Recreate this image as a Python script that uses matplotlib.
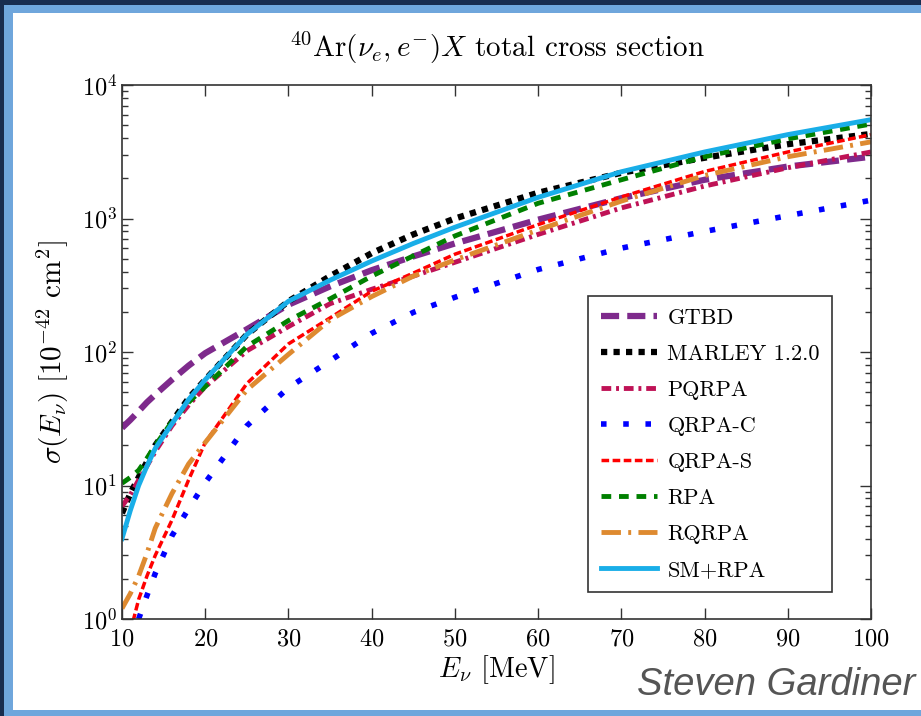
import numpy as np
import matplotlib
matplotlib.use("Agg")
import matplotlib.pyplot as plt
from matplotlib.patches import Rectangle
from matplotlib.ticker import LogLocator, FixedLocator, NullLocator

plt.rcParams["font.family"] = "serif"
plt.rcParams["font.serif"] = ["cmr10"]
plt.rcParams["mathtext.fontset"] = "cm"
plt.rcParams["axes.formatter.use_mathtext"] = True
plt.rcParams["axes.unicode_minus"] = False

# neutrino energy grid [MeV]
energy = [10, 11, 12, 13, 14, 16, 18, 20, 25, 30, 35, 40, 45, 50, 60, 70, 80, 90, 100]
nan = np.nan

# total cross sections [1e-42 cm^2]
gtbd = [27, 31, 36, 42, 48, 62, 79, 98, 148, 226, 310, 410, 520, 650, 980, 1420, 1950, 2450, 2900]
marley = [6.2, 8.7, 11.5, 15, 20, 30, 45, 62, 135, 240, 370, 550, 760, 1000, 1560, 2200, 2850, 3600, 4300]
pqrpa = [7, 8.5, 11, 14, 18, 28, 40, 55, 102, 155, 230, 295, 370, 470, 760, 1200, 1750, 2400, 3150]
qrpa_c = [nan, nan, 1.0, 1.5, 2.2, 4.2, 6.7, 10.5, 28, 54, 86, 138, 198, 257, 415, 600, 800, 1050, 1370]
qrpa_s = [nan, 0.8, 1.4, 2.1, 3.0, 5.5, 11, 21, 58, 115, 180, 285, 390, 540, 900, 1450, 2250, 3150, 4250]
rpa = [10.4, 11.5, 13, 16, 20, 30, 42, 55, 110, 172, 250, 370, 525, 740, 1300, 1950, 2900, 3950, 5100]
rqrpa = [1.2, 1.55, 2.1, 3.1, 4.8, 8.7, 14.5, 21, 52, 96, 174, 260, 370, 490, 820, 1350, 2100, 2900, 3750]
sm_rpa = [4, 6.5, 10, 14, 19, 29, 44, 62, 135, 240, 345, 480, 650, 860, 1440, 2240, 3150, 4250, 5500]

fig = plt.figure(figsize=(9.21, 7.16), dpi=100, facecolor="#182c4e")

# slide frame
fig.patches.append(Rectangle((4 / 921, 0), 1, 1 - 5 / 716, transform=fig.transFigure,
                             facecolor="#6fa6dc", edgecolor="none", zorder=-2))
fig.patches.append(Rectangle((13 / 921, 6 / 716), 1, 1 - 19 / 716, transform=fig.transFigure,
                             facecolor="white", edgecolor="none", zorder=-1))

ax = fig.add_axes([122 / 921, 1 - 619 / 716, 749 / 921, 534 / 716])

ax.plot(energy, gtbd, color="#7e2a8c", lw=4.5, linestyle=(0, (2.9, 1.3)), label="GTBD")
ax.plot(energy, marley, color="black", lw=4.5, linestyle=(0, (1, 1)), label="MARLEY 1.2.0")
ax.plot(energy, pqrpa, color="#bf1256", lw=3.5, linestyle=(0, (2, 1, 0.6, 1)), label="PQRPA")
ax.plot(energy, qrpa_c, color="#0000ff", lw=4.0, linestyle=(0, (1, 3)), label="QRPA-C")
ax.plot(energy, qrpa_s, color="#ff0000", lw=2.5, linestyle=(0, (2.2, 1)), label="QRPA-S")
ax.plot(energy, rpa, color="#008000", lw=3.5, linestyle=(0, (2, 1.6)), label="RPA")
ax.plot(energy, rqrpa, color="#de8a30", lw=3.5, linestyle=(0, (4, 1.5, 0.6, 1.5)), label="RQRPA")
ax.plot(energy, sm_rpa, color="#19aee8", lw=3.5, linestyle="-", label="SM+RPA")

ax.set_yscale("log")
ax.set_xlim(10, 100)
ax.set_ylim(1, 1e4)
ax.xaxis.set_major_locator(FixedLocator(range(10, 101, 10)))
ax.xaxis.set_minor_locator(NullLocator())
ax.yaxis.set_major_locator(LogLocator(base=10, numticks=10))
ax.yaxis.set_minor_locator(LogLocator(base=10, subs=np.arange(2, 10), numticks=20))

for s in ax.spines.values():
    s.set_color("#333333")
    s.set_linewidth(1.2)
ax.tick_params(which="both", direction="in", top=True, right=True, colors="#333333",
               labelcolor="black", labelsize=17.5)
ax.tick_params(which="major", length=8, width=1)
ax.tick_params(which="minor", length=4.5, width=1)
ax.tick_params(axis="x", pad=7)

ax.set_title(r"$^{40}\mathrm{Ar}(\nu_e, e^{-})X$ total cross section", fontsize=21, pad=20)
ax.set_xlabel(r"$E_\nu$ [MeV]", fontsize=20.5, labelpad=2)
ax.set_ylabel(r"$\sigma(E_\nu)\ [10^{-42}\ \mathrm{cm}^2]$", fontsize=21, labelpad=8)

leg = ax.legend(loc="lower right", bbox_to_anchor=(0.948, 0.05), borderaxespad=0,
                fontsize=16, handlelength=2.55, handletextpad=0.45, labelspacing=0.74,
                fancybox=False, framealpha=1, edgecolor="#333333", borderpad=0.55)
leg.get_frame().set_linewidth(1.2)

fig.text(915 / 921, 1 - 695 / 716, "Steven Gardiner", ha="right", va="baseline",
         fontsize=27.5, style="italic", color="#555555", family="Liberation Sans")

fig.savefig("out.png", dpi=100, facecolor=fig.get_facecolor())
